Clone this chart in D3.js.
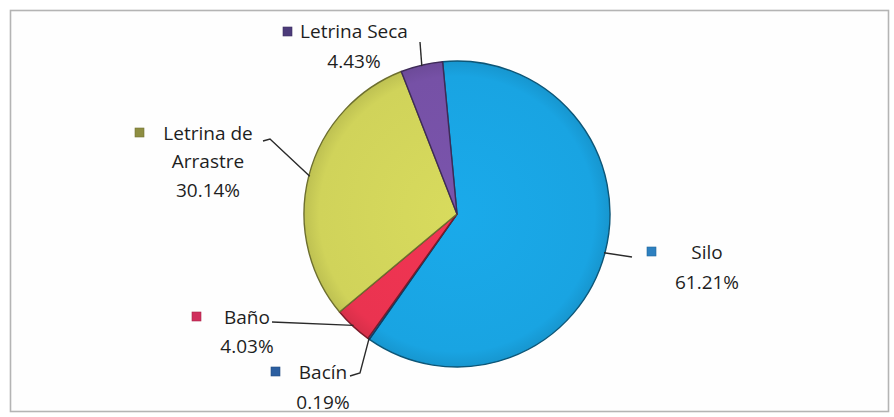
<!DOCTYPE html>
<html>
<head>
<meta charset="utf-8">
<script src="https://cdn.jsdelivr.net/npm/d3@7"></script>
<style>
  html, body { margin: 0; padding: 0; background: #ffffff; }
  svg { display: block; }
</style>
</head>
<body>
<svg id="chart" width="894" height="417"></svg>
<script>
// Sanitation types (share of households, %)
const categories = ["Silo", "Bacín", "Baño", "Letrina de Arrastre", "Letrina Seca"];
const values = [61.21, 0.19, 4.03, 30.14, 4.43];
const labelLines = [["Silo"], ["Bacín"], ["Baño"], ["Letrina de", "Arrastre"], ["Letrina Seca"]];

// Slice fills and legend-key colours
const sliceColors = ["#19a4e2", "#1f74bb", "#ea3350", "#d0d35a", "#7651a6"];
const keyColors   = ["#2d80c0", "#2b5ea0", "#d02e5c", "#8e8e42", "#4c3b7a"];

// Layout
const W = 894, H = 417;
const cx = 457, cy = 214, R = 153;
const startDeg = -5.4;
const fontSize = 19;

// Label placement: first-line centre, key square, leader line start / elbow
const labelLayout = [
  { x: 707, y: 252, key: [647, 247], lead: [[632, 257]] },
  { x: 323, y: 372, key: [271, 367], lead: [[350, 376], [360, 373]] },
  { x: 247, y: 317, key: [192, 312], lead: [[272, 322]] },
  { x: 208, y: 133, key: [135, 128], lead: [[263, 141], [270, 139]] },
  { x: 354, y: 31,  key: [283, 27],  lead: [[420, 42]] }
];
const lineGap = [30, 30, 29, 28.5, 30];

const svg = d3.select("#chart");

// Frame
svg.append("rect")
  .attr("x", 10.5).attr("y", 10.5)
  .attr("width", 878).attr("height", 401)
  .attr("fill", "#fefefe")
  .attr("stroke", "#b4b4b4")
  .attr("stroke-width", 1.6);

// Soft bevel: each slice darkens slightly toward the rim
const defs = svg.append("defs");
sliceColors.forEach((c, i) => {
  const base = d3.color(c);
  const grad = defs.append("radialGradient")
    .attr("id", "grad" + i)
    .attr("gradientUnits", "userSpaceOnUse")
    .attr("cx", 0).attr("cy", 0).attr("r", R);
  grad.append("stop").attr("offset", "0%").attr("stop-color", base.brighter(0.1));
  grad.append("stop").attr("offset", "90%").attr("stop-color", base);
  grad.append("stop").attr("offset", "100%").attr("stop-color", base.darker(0.25));
});

const pie = d3.pie()
  .value(d => d)
  .sort(null)
  .startAngle(startDeg * Math.PI / 180)
  .endAngle(startDeg * Math.PI / 180 + 2 * Math.PI);

const arcs = pie(values);
const arc = d3.arc().innerRadius(0).outerRadius(R);

const g = svg.append("g").attr("transform", `translate(${cx},${cy})`);

g.selectAll("path.slice")
  .data(arcs)
  .join("path")
  .attr("class", "slice")
  .attr("d", arc)
  .attr("fill", (d, i) => `url(#grad${i})`)
  .attr("stroke", (d, i) => d3.color(sliceColors[i]).darker(1.8))
  .attr("stroke-width", 1.4)
  .attr("stroke-linejoin", "round");

// Leader lines: from the label to the mid-point of each slice's rim
const rimPoint = d => {
  const a = (d.startAngle + d.endAngle) / 2;
  return [cx + Math.sin(a) * (R - 1), cy - Math.cos(a) * (R - 1)];
};

const line = d3.line();
arcs.forEach((d, i) => {
  const pts = labelLayout[i].lead.concat([rimPoint(d)]);
  svg.append("path")
    .attr("d", line(pts))
    .attr("fill", "none")
    .attr("stroke", "#2a2a2a")
    .attr("stroke-width", 1.4);
});

// Labels: category name(s) and percentage
const fmt = d3.format(".2f");
arcs.forEach((d, i) => {
  const L = labelLayout[i];
  const lines = labelLines[i].concat([fmt(values[i]) + "%"]);
  lines.forEach((s, k) => {
    svg.append("text")
      .attr("x", L.x)
      .attr("y", L.y + k * lineGap[i])
      .attr("dy", "0.36em")
      .attr("text-anchor", "middle")
      .attr("font-family", "'Open Sans', sans-serif")
      .attr("font-size", fontSize)
      .attr("fill", "#1e1e1e")
      .text(s);
  });
  // legend key square
  const k = 9;
  svg.append("rect")
    .attr("x", L.key[0]).attr("y", L.key[1])
    .attr("width", k).attr("height", k)
    .attr("fill", keyColors[i])
    .attr("stroke", d3.color(keyColors[i]).darker(0.6))
    .attr("stroke-width", 0.6);
});
</script>
</body>
</html>
